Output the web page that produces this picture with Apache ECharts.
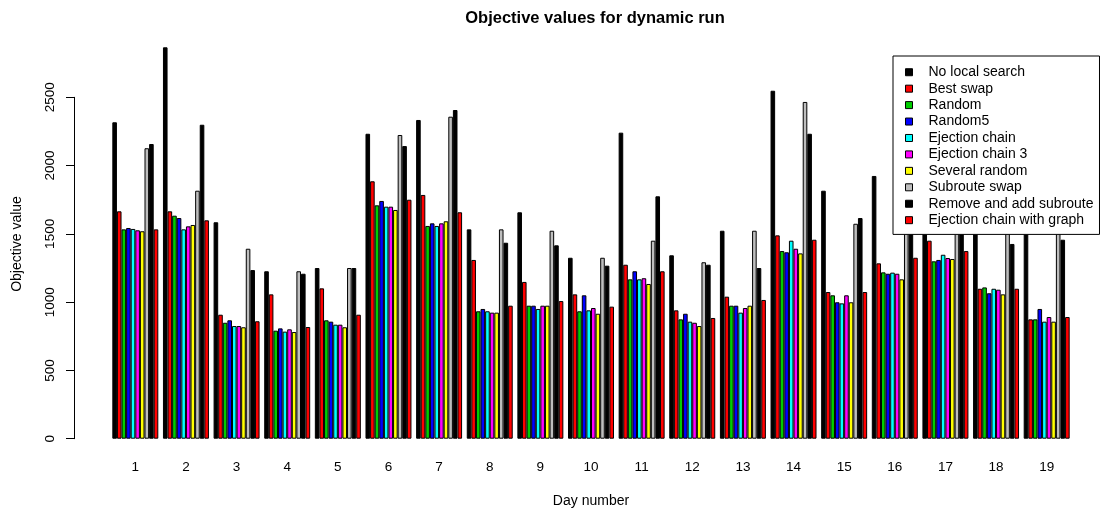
<!DOCTYPE html>
<html>
<head>
<meta charset="utf-8">
<script src="https://cdn.jsdelivr.net/npm/echarts@6/dist/echarts.min.js"></script>
<style>
  html, body { margin: 0; padding: 0; background: #fff; }
  #chart { width: 1102px; height: 514px; }
</style>
</head>
<body>
<div id="chart"></div>
<script>
// Day numbers on the x axis
const days = ['1','2','3','4','5','6','7','8','9','10','11','12','13','14','15','16','17','18','19'];

// Objective value per day for each local-search variant
const noLocalSearch      = [2317, 2866, 1585, 1226, 1250, 2233, 2334, 1533, 1658, 1325, 2241, 1343, 1523, 2548, 1816, 1924, 2000, 1900, 2050];
const bestSwap           = [1665, 1665,  908, 1057, 1101, 1885, 1785, 1309, 1148, 1057, 1274,  940, 1040, 1489, 1074, 1284, 1450, 1098,  874];
const randomLS           = [1533, 1633,  849,  791,  867, 1709, 1558,  933,  974,  933, 1167,  874,  974, 1374, 1050, 1218, 1299, 1108,  874];
const random5            = [1543, 1616,  867,  808,  857, 1741, 1577,  950,  974, 1050, 1226,  915,  974, 1365,  999, 1208, 1309, 1065,  950];
const ejectionChain      = [1536, 1533,  825,  784,  835, 1699, 1558,  933,  950,  940, 1167,  857,  923, 1450,  991, 1216, 1347, 1098,  857];
const ejectionChain3     = [1526, 1555,  825,  801,  835, 1699, 1577,  923,  974,  957, 1175,  849,  957, 1391, 1050, 1208, 1323, 1091,  891];
const severalRandom      = [1519, 1565,  816,  781,  816, 1675, 1592,  923,  974,  915, 1133,  825,  974, 1357,  999, 1167, 1316, 1057,  857];
const subrouteSwap       = [2127, 1816, 1391, 1226, 1250, 2224, 2358, 1533, 1523, 1325, 1450, 1292, 1523, 2466, 1574, 1700, 1800, 1750, 1850];
const removeAddSubroute  = [2158, 2299, 1235, 1208, 1250, 2143, 2407, 1435, 1416, 1267, 1775, 1274, 1250, 2233, 1616, 1800, 1950, 1426, 1457];
const ejectionChainGraph = [1533, 1599,  860,  818,  908, 1750, 1658,  974, 1008,  967, 1226,  884, 1016, 1457, 1074, 1325, 1374, 1098,  891];

// Y axis tick values
const yTicks = [0, 500, 1000, 1500, 2000, 2500];

const seriesDefs = [
  { name: 'No local search',            data: noLocalSearch,      color: '#000000' },
  { name: 'Best swap',                  data: bestSwap,           color: '#FF0000' },
  { name: 'Random',                     data: randomLS,           color: '#00CD00' },
  { name: 'Random5',                    data: random5,            color: '#0000FF' },
  { name: 'Ejection chain',             data: ejectionChain,      color: '#00FFFF' },
  { name: 'Ejection chain 3',           data: ejectionChain3,     color: '#FF00FF' },
  { name: 'Several random',             data: severalRandom,      color: '#FFFF00' },
  { name: 'Subroute swap',              data: subrouteSwap,       color: '#BEBEBE' },
  { name: 'Remove and add subroute',    data: removeAddSubroute,  color: '#000000' },
  { name: 'Ejection chain with graph',  data: ejectionChainGraph, color: '#FF0000' }
];

const FONT = 'Liberation Sans, Arial, sans-serif';

const chart = echarts.init(document.getElementById('chart'), null, { renderer: 'canvas' });

chart.setOption({
  animation: false,
  backgroundColor: '#ffffff',
  textStyle: { fontFamily: FONT },
  title: {
    text: 'Objective values for dynamic run',
    left: 590,
    textAlign: 'center',
    top: 5,
    textStyle: { fontFamily: FONT, fontSize: 16.5, fontWeight: 'bold', color: '#000' }
  },
  legend: {
    orient: 'vertical',
    left: 893,
    top: 56,
    padding: [8, 6, 6, 12],
    itemWidth: 7,
    itemHeight: 7,
    itemGap: 0,
    icon: 'rect',
    backgroundColor: '#ffffff',
    borderColor: '#000000',
    borderWidth: 1,
    borderRadius: 0,
    z: 10,
    itemStyle: { borderColor: '#000', borderWidth: 1 },
    textStyle: { fontFamily: FONT, fontSize: 14, color: '#000', lineHeight: 16.44, padding: [0, 0, 0, 11] },
    data: seriesDefs.map(s => s.name)
  },
  grid: { left: 110, right: 30, top: 97.3, bottom: 75.3, containLabel: false },
  xAxis: {
    type: 'category',
    data: days,
    axisLine: { show: false },
    axisTick: { show: false },
    axisLabel: { fontFamily: FONT, fontSize: 13.5, color: '#000', margin: 22 },
    name: 'Day number',
    nameLocation: 'middle',
    nameGap: 55,
    nameTextStyle: { fontFamily: FONT, fontSize: 14, color: '#000' }
  },
  yAxis: {
    type: 'value',
    min: yTicks[0],
    max: yTicks[yTicks.length - 1],
    interval: 500,
    offset: 36,
    axisLine: { show: true, lineStyle: { color: '#000', width: 1 } },
    axisTick: { show: true, length: 8, lineStyle: { color: '#000' } },
    axisLabel: {
      fontFamily: FONT, fontSize: 13.5, color: '#000', rotate: 90, margin: 17,
      formatter: v => String(v)
    },
    splitLine: { show: false }
  },
  graphic: [{
    type: 'text',
    x: 17,
    y: 244,
    rotation: Math.PI / 2,
    style: {
      text: 'Objective value',
      fontFamily: FONT,
      fontSize: 14,
      fill: '#000',
      align: 'center',
      verticalAlign: 'middle'
    }
  }],
  series: seriesDefs.map(s => ({
    name: s.name,
    type: 'bar',
    data: s.data,
    clip: false,
    barGap: 0,
    barCategoryGap: '9.2%',
    itemStyle: { color: s.color, borderColor: '#000', borderWidth: 1 },
    emphasis: { disabled: true }
  }))
});
</script>
</body>
</html>
